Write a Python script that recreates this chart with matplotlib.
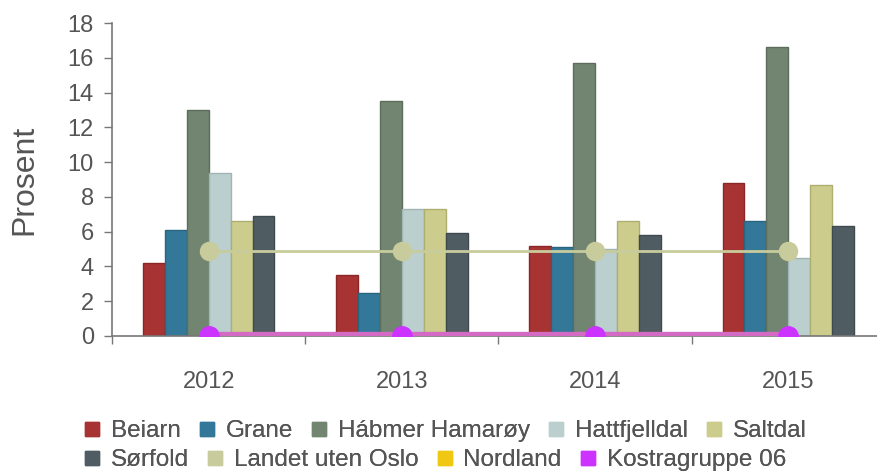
import matplotlib
matplotlib.use("Agg")
import matplotlib.pyplot as plt
from matplotlib.lines import Line2D
import numpy as np

plt.rcParams['font.family'] = ['Liberation Sans', 'DejaVu Sans']

years = ["2012", "2013", "2014", "2015"]
bar_series = ["Beiarn", "Grane", "Hábmer Hamarøy", "Hattfjelldal", "Saltdal", "Sørfold"]
beiarn = [4.2, 3.5, 5.2, 8.8]
grane = [6.1, 2.5, 5.1, 6.6]
habmer = [13.0, 13.5, 15.7, 16.6]
hattfjelldal = [9.4, 7.3, 5.0, 4.5]
saltdal = [6.6, 7.3, 6.6, 8.7]
sorfold = [6.9, 5.9, 5.8, 6.3]
landet = [4.9, 4.9, 4.9, 4.9]
nordland = [np.nan, np.nan, np.nan, np.nan]
kostra = [0.0, 0.0, 0.0, 0.0]

bar_values = [beiarn, grane, habmer, hattfjelldal, saltdal, sorfold]
bar_colors = ["#a83333", "#337799", "#718570", "#bccfcf", "#cccc8c", "#4f5c61"]
bar_edges = ["#8a2828", "#2a6580", "#5c6d5b", "#a2b4b4", "#aeae70", "#3e4a4e"]
line_colors = {"Landet uten Oslo": "#c8cc9c", "Nordland": "#f0c814", "Kostragruppe 06": "#cc33ff"}

W, H = 878, 474
fig = plt.figure(figsize=(W / 100, H / 100), dpi=100)
ax_left, ax_right = 112, 885
ax_bottom, ax_top = 336, 23
ax = fig.add_axes([ax_left / W, (H - ax_bottom) / H, (ax_right - ax_left) / W, (ax_bottom - ax_top) / H])

x = np.arange(len(years))
bw = 0.1136
n = len(bar_series)
for i, (name, vals) in enumerate(zip(bar_series, bar_values)):
    ax.bar(x + (i - (n - 1) / 2) * bw, vals, width=bw, color=bar_colors[i],
           edgecolor=bar_edges[i], linewidth=1.0, zorder=2, label=name)

ax.plot(x, landet, color="#c8cc9c", lw=2, marker="o", ms=13, mfc="#c8cc9c", mec="#c8cc9c", zorder=4)
ax.plot(x, nordland, color="#f0c814", lw=2, marker="o", ms=13, zorder=4)
ax.plot(x, kostra, color="#d36ac4", lw=6, zorder=3)
ax.plot(x, kostra, ls="none", marker="o", ms=14, mfc="#cc33ff", mec="#cc33ff", zorder=5)

ax.set_xlim(-0.5, 3.5)
ax.set_ylim(0, 18)
ax.set_yticks(np.arange(0, 19, 2))
ax.set_xticks(x)
ax.set_xticklabels(years)
ax.set_xticks(np.arange(-0.5, 3.6, 1), minor=True)
ax.tick_params(axis="x", which="major", length=0, pad=25, labelsize=17, labelcolor="#555555")
ax.tick_params(axis="x", which="minor", length=6, width=1, color="#777777", direction="out")
ax.tick_params(axis="y", length=6, width=1, color="#777777", labelsize=17, labelcolor="#555555", pad=7)

for s in ["top", "right"]:
    ax.spines[s].set_visible(False)
for s in ["left", "bottom"]:
    ax.spines[s].set_color("#777777")
    ax.spines[s].set_linewidth(1.2)

ax.set_ylabel("Prosent", fontsize=23, color="#555555")
ax.yaxis.set_label_coords(-0.094, 0.5)

def handle(c):
    return Line2D([], [], ls="none", marker="s", ms=10, mfc=c, mec=c)

row1 = [("Beiarn", bar_colors[0]), ("Grane", bar_colors[1]), ("Hábmer Hamarøy", bar_colors[2]),
        ("Hattfjelldal", bar_colors[3]), ("Saltdal", bar_colors[4])]
row2 = [("Sørfold", bar_colors[5]), ("Landet uten Oslo", line_colors["Landet uten Oslo"]),
        ("Nordland", line_colors["Nordland"]), ("Kostragruppe 06", line_colors["Kostragruppe 06"])]

for row, yc in [(row1, 431), (row2, 460)]:
    leg = fig.legend([handle(c) for _, c in row], [t for t, _ in row], loc="center left",
                     bbox_to_anchor=(84 / W, (H - yc) / H), ncol=len(row), frameon=False,
                     fontsize=17.5, handlelength=0.65, handletextpad=0.45, columnspacing=0.75,
                     borderpad=0, borderaxespad=0)
    for t in leg.get_texts():
        t.set_color("#555555")
    fig.add_artist(leg)

fig.savefig("out.png", dpi=100)
